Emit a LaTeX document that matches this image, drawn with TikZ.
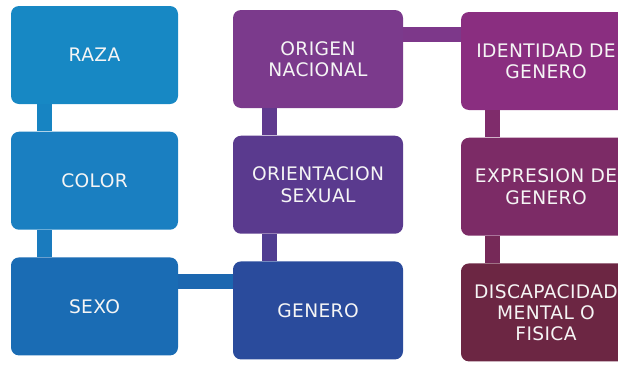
\documentclass[tikz,border=0pt]{standalone}
\usepackage{fontspec}
\setmainfont[LetterSpace=2]{DejaVu Sans}
\usepackage{tikz}
\usetikzlibrary{positioning}

\definecolor{raza}{HTML}{1788C4}
\definecolor{colorc}{HTML}{1A7FC1}
\definecolor{sexo}{HTML}{1A6CB4}
\definecolor{origen}{HTML}{7B3A8C}
\definecolor{orient}{HTML}{5A3A8E}
\definecolor{genero}{HTML}{2A4B9C}
\definecolor{identidad}{HTML}{8A2E80}
\definecolor{expresion}{HTML}{7C2B66}
\definecolor{discap}{HTML}{6C2643}

\begin{document}
\begin{tikzpicture}[
        box/.style = {rectangle, rounded corners=0.16cm, minimum width=3.4cm, minimum height=1.96cm,
          inner sep=0pt, align=center, text=white!92!gray, font=\fontsize{10.6}{12}\selectfont},
        bar/.style = {line width=0.3cm},
        node distance = 0.54cm,
      ]
      \useasboundingbox (0,0) rectangle (12.36,-7.3);
      \clip (0,0) rectangle (12.36,-7.3);

      \node[box, fill=raza, minimum width=3.34cm] (raza) at (1.89,-1.10) {RAZA};
      \node[box, fill=colorc, minimum width=3.34cm, below=of raza] (color) {COLOR};
      \node[box, fill=sexo, minimum width=3.34cm, below=of color] (sexo) {SEXO};

      \node[box, fill=origen] (origen) at (6.36,-1.18) {ORIGEN\\NACIONAL};
      \node[box, fill=orient, below=of origen] (orient) {ORIENTACION\\SEXUAL};
      \node[box, fill=genero, below=of orient] (genero) {GENERO};

      \node[box, fill=identidad] (identidad) at (10.92,-1.22) {IDENTIDAD DE\\GENERO};
      \node[box, fill=expresion, below=of identidad] (expresion) {EXPRESION DE\\GENERO};
      \node[box, fill=discap, below=of expresion] (discap) {DISCAPACIDAD\\MENTAL O\\FISICA};

      \draw[bar, draw=raza!85!sexo] ([xshift=0.67cm]raza.south west) -- ([xshift=0.67cm]color.north west);
      \draw[bar, draw=colorc!80!sexo] ([xshift=0.67cm]color.south west) -- ([xshift=0.67cm]sexo.north west);
      \draw[bar, draw=sexo!85!genero] ([yshift=-0.49cm]sexo.north east) -- ([yshift=-0.49cm]sexo.north east -| genero.west);

      \draw[bar, draw=orient!85!origen] ([xshift=0.73cm]origen.south west) -- ([xshift=0.73cm]orient.north west);
      \draw[bar, draw=orient!80!genero] ([xshift=0.73cm]orient.south west) -- ([xshift=0.73cm]genero.north west);
      \draw[bar, draw=origen!85!identidad] ([yshift=-0.49cm]origen.north east) -- ([yshift=-0.49cm]origen.north east -| identidad.west);

      \draw[bar, draw=expresion!80!identidad] ([xshift=0.63cm]identidad.south west) -- ([xshift=0.63cm]expresion.north west);
      \draw[bar, draw=expresion!60!discap] ([xshift=0.63cm]expresion.south west) -- ([xshift=0.63cm]discap.north west);
    \end{tikzpicture}
\end{document}
